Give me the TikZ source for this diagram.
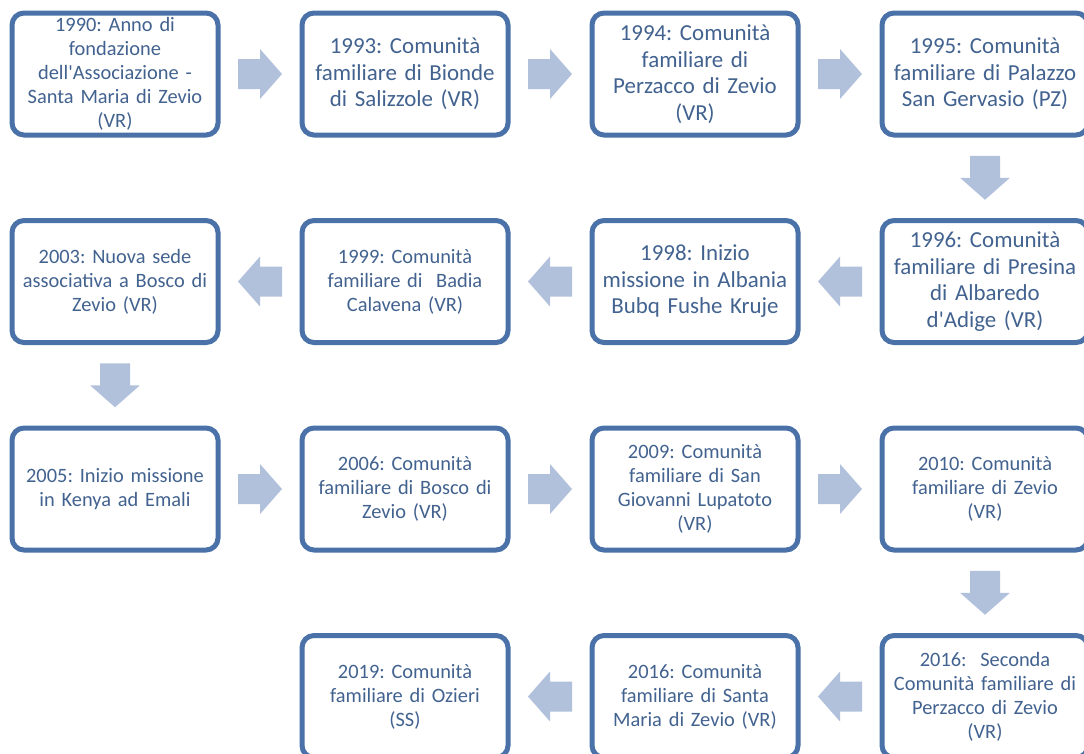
\documentclass[tikz,border=0pt]{standalone}
\usepackage{fontspec}
\setmainfont{Carlito}[Ligatures=TeXOff]
\usetikzlibrary{calc}
\frenchspacing
\definecolor{bordercol}{HTML}{4A72A9}
\definecolor{textcol}{HTML}{42628F}
\definecolor{arrowcol}{HTML}{B1C1DC}
\tikzset{
  evt/.style={draw=bordercol, line width=5pt, rounded corners=12pt, fill=white,
    minimum width=206pt, minimum height=122pt, inner sep=0pt,
    text=textcol, align=center, text width=204pt},
  big/.style={font=\fontsize{22.9}{26.5}\selectfont},
  small/.style={font=\fontsize{20.4}{23.9}\selectfont},
  pics/barrow/.style={code={
    \fill[arrowcol] (-22,-15) -- (0,-15) -- (0,-25) -- (22,0) -- (0,25) -- (0,15) -- (-22,15) -- cycle;}}
}
\begin{document}
\begin{tikzpicture}[x=1pt,y=-1pt]
\useasboundingbox (0,0) rectangle (1084,753);
\clip (0,0) rectangle (1084,753);
% row 1
\node[evt,small] (b1) at (115,74) {1990: Anno di\\fondazione\\dell'Associazione -\\Santa Maria di Zevio\\(VR)};
\node[evt,big] (b2) at (405,74) {1993: Comunità\\familiare di Bionde\\di Salizzole (VR)};
\node[evt,big] (b3) at (695,74) {1994: Comunità\\familiare di\\Perzacco di Zevio\\(VR)};
\node[evt,big] (b4) at (985,74) {1995: Comunità\\familiare di Palazzo\\San Gervasio (PZ)};
% row 2
\node[evt,big] (b5) at (985,281.5) {1996: Comunità\\familiare di Presina\\di Albaredo\\d'Adige (VR)};
\node[evt,big] (b6) at (695,281.5) {1998: Inizio\\missione in Albania\\Bubq Fushe Kruje};
\node[evt,small] (b7) at (405,281.5) {1999: Comunità\\familiare di\ \ Badia\\Calavena (VR)};
\node[evt,small] (b8) at (115,281.5) {2003: Nuova sede\\associativa a Bosco di\\Zevio (VR)};
% row 3
\node[evt,small] (b9) at (115,489) {2005: Inizio missione\\in Kenya ad Emali};
\node[evt,small] (b10) at (405,489) {2006: Comunità\\familiare di Bosco di\\Zevio (VR)};
\node[evt,small] (b11) at (695,489) {2009: Comunità\\familiare di San\\Giovanni Lupatoto\\(VR)};
\node[evt,small] (b12) at (985,489) {2010: Comunità\\familiare di Zevio\\(VR)};
% row 4
\node[evt,small] (b13) at (985,696.5) {2016:\ \ Seconda\\Comunità familiare di\\Perzacco di Zevio\\(VR)};
\node[evt,small] (b14) at (695,696.5) {2016: Comunità\\familiare di Santa\\Maria di Zevio (VR)};
\node[evt,small] (b15) at (405,696.5) {2019: Comunità\\familiare di Ozieri\\(SS)};
% arrows
\coordinate (m1) at ($(b1)!0.5!(b2)$);
\coordinate (m2) at ($(b2)!0.5!(b3)$);
\coordinate (m3) at ($(b3)!0.5!(b4)$);
\coordinate (m4) at ($(b4)!0.5!(b5)$);
\coordinate (m5) at ($(b5)!0.5!(b6)$);
\coordinate (m6) at ($(b6)!0.5!(b7)$);
\coordinate (m7) at ($(b7)!0.5!(b8)$);
\coordinate (m8) at ($(b8)!0.5!(b9)$);
\coordinate (m9) at ($(b9)!0.5!(b10)$);
\coordinate (m10) at ($(b10)!0.5!(b11)$);
\coordinate (m11) at ($(b11)!0.5!(b12)$);
\coordinate (m12) at ($(b12)!0.5!(b13)$);
\coordinate (m13) at ($(b13)!0.5!(b14)$);
\coordinate (m14) at ($(b14)!0.5!(b15)$);
\pic at (m1) {barrow};
\pic at (m2) {barrow};
\pic at (m3) {barrow};
\pic[rotate=-90] at (m4) {barrow};
\pic[rotate=180] at (m5) {barrow};
\pic[rotate=180] at (m6) {barrow};
\pic[rotate=180] at (m7) {barrow};
\pic[rotate=-90] at (m8) {barrow};
\pic at (m9) {barrow};
\pic at (m10) {barrow};
\pic at (m11) {barrow};
\pic[rotate=-90] at (m12) {barrow};
\pic[rotate=180] at (m13) {barrow};
\pic[rotate=180] at (m14) {barrow};
\end{tikzpicture}
\end{document}
